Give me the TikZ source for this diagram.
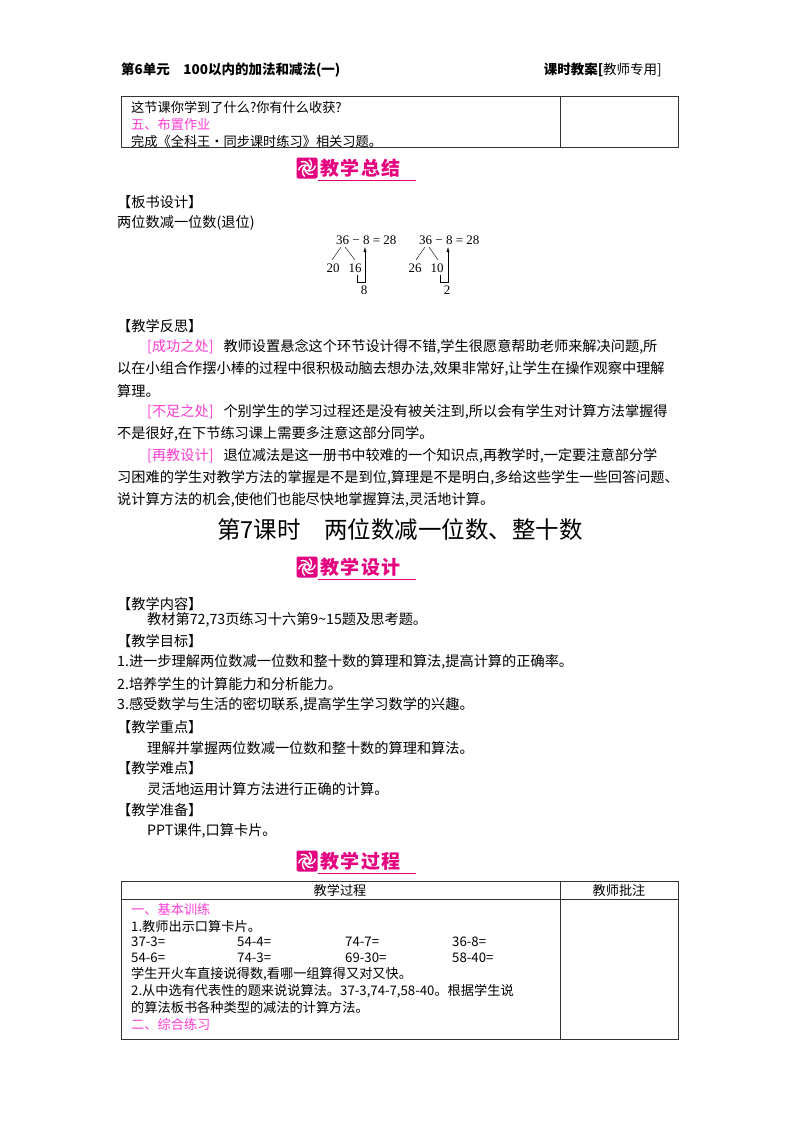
\documentclass[tikz,border=0pt]{standalone}
\usepackage{fontspec}
\usetikzlibrary{arrows.meta}
\setmainfont{Noto Sans CJK SC}
\newfontfamily\numf{Liberation Serif}
\definecolor{pk}{RGB}{228,0,127}
\definecolor{lpk}{RGB}{250,60,210}
\newcommand\mybanner[3]{%
 \node[draw=none,fill=pk,rounded corners=2pt,minimum width=21pt,minimum height=21pt,inner sep=0] (#3i) at (#1+11,#2) {};
 \foreach \a in {0,60,...,300}{\draw[white,line width=1.4pt] (#3i.center) ++(\a:2.5pt) arc[start angle=\a,end angle=\a+110,radius=6.5pt];}
 \node[anchor=west,inner sep=0,text=pk,font=\bfseries\fontsize{19}{20}\selectfont] (#3t) at (#1+24,#2) {\addfontfeature{LetterSpace=8}#3};
 \draw[pk,line width=0.6pt] (#1+22,#2+12) -- (#1+120,#2+12);}
\tikzset{txt/.style={anchor=west,inner sep=0,font=\fontsize{14.2}{15}\selectfont},
 tb/.style={anchor=west,inner sep=0,font=\fontsize{13.2}{14}\selectfont},
 pinkt/.style={text=lpk},
 frame/.style={line width=0.9pt,draw=black!80},
 eq/.style={inner sep=0,font=\numf\fontsize{13}{14}\selectfont}}
\begin{document}
\begin{tikzpicture}[x=1pt,y=-1pt]
\useasboundingbox (0,0) rectangle (800,1132);
\node[anchor=west,inner sep=0,font=\bfseries\fontsize{13.5}{14}\selectfont] (h1) at (121,70) {第6单元\hspace{1em}100以内的加法和减法(一)};
\node[anchor=east,inner sep=0,font=\bfseries\fontsize{13.5}{14}\selectfont] (h2) at (662,70) {课时教案[\mdseries 教师专用]};
% top table
\draw[frame] (121,96) rectangle (678,147); \draw[frame] (560,96) -- (560,147);
\node[tb] (t1) at (131,107) {这节课你学到了什么?你有什么收获?};
\node[tb,pinkt] (t2) at (131,124) {五、布置作业};
\node[tb] (t3) at (131,141) {完成《全科王·同步课时练习》相关习题。};
\mybanner{296}{168}{教学总结}
\node[txt] (b1) at (117,202) {【板书设计】};
\node[txt] (b2) at (117,223) {两位数减一位数(退位)};
% diagram left
\node[eq,anchor=west] (e1) at (336,240) {36 − 8 = 28};
\node[eq] (n20) at (333,268) {20}; \node[eq] (n16) at (355,268) {16}; \node[eq] (n8) at (364,290) {8};
\draw[thin] (341,247) -- (332,260); \draw[thin] (345,247) -- (355,260);
\draw[thin,-{Latex[length=5pt,width=3pt]}] (357,275) -- (357,282) -- (365,282) -- (365,247);
% diagram right
\node[eq,anchor=west] (e2) at (419,240) {36 − 8 = 28};
\node[eq] (n26) at (415,268) {26}; \node[eq] (n10) at (437,268) {10}; \node[eq] (n2) at (447,290) {2};
\draw[thin] (425,247) -- (416,260); \draw[thin] (429,247) -- (438,260);
\draw[thin,-{Latex[length=5pt,width=3pt]}] (440,275) -- (440,282) -- (448,282) -- (448,247);
\node[txt] (r0) at (117,326) {【教学反思】};
\node[txt] (r1) at (147,347) {\textcolor{lpk}{[成功之处]}\hspace{0.7em}教师设置悬念这个环节设计得不错,学生很愿意帮助老师来解决问题,所};
\node[txt] (r2) at (117,369) {以在小组合作摆小棒的过程中很积极动脑去想办法,效果非常好,让学生在操作观察中理解};
\node[txt] (r3) at (117,391) {算理。};
\node[txt] (r4) at (147,412) {\textcolor{lpk}{[不足之处]}\hspace{0.7em}个别学生的学习过程还是没有被关注到,所以会有学生对计算方法掌握得};
\node[txt] (r5) at (117,434) {不是很好,在下节练习课上需要多注意这部分同学。};
\node[txt] (r6) at (147,456) {\textcolor{lpk}{[再教设计]}\hspace{0.7em}退位减法是这一册书中较难的一个知识点,再教学时,一定要注意部分学};
\node[txt] (r7) at (117,478) {习困难的学生对教学方法的掌握是不是到位,算理是不是明白,多给这些学生一些回答问题、};
\node[txt] (r8) at (117,500) {说计算方法的机会,使他们也能尽快地掌握算法,灵活地计算。};
\node[inner sep=0,font=\fontsize{23.5}{24}\selectfont] (title) at (400,530) {第7课时\hspace{1em}两位数减一位数、整十数};
\mybanner{296}{567}{教学设计}
\node[txt] (c1) at (117,604) {【教学内容】};
\node[txt] (c2) at (147,620) {教材第72,73页练习十六第9\textasciitilde15题及思考题。};
\node[txt] (c3) at (117,641) {【教学目标】};
\node[txt] (c4) at (117,662) {1.进一步理解两位数减一位数和整十数的算理和算法,提高计算的正确率。};
\node[txt] (c5) at (117,684) {2.培养学生的计算能力和分析能力。};
\node[txt] (c6) at (117,705) {3.感受数学与生活的密切联系,提高学生学习数学的兴趣。};
\node[txt] (c7) at (117,727) {【教学重点】};
\node[txt] (c8) at (147,748) {理解并掌握两位数减一位数和整十数的算理和算法。};
\node[txt] (c9) at (117,768) {【教学难点】};
\node[txt] (c10) at (147,789) {灵活地运用计算方法进行正确的计算。};
\node[txt] (c11) at (117,810) {【教学准备】};
\node[txt] (c12) at (147,831) {PPT课件,口算卡片。};
\mybanner{296}{861}{教学过程}
% bottom table
\draw[frame] (121,881) rectangle (678,1039); \draw[frame] (560,881) -- (560,1039); \draw[frame] (121,899) -- (678,899);
\node[inner sep=0,font=\fontsize{13.2}{14}\selectfont] (th1) at (340,890) {教学过程};
\node[inner sep=0,font=\fontsize{13.2}{14}\selectfont] (th2) at (619,890) {教师批注};
\node[tb,pinkt] (p1) at (131,909) {一、基本训练};
\node[tb] (p2) at (131,926) {1.教师出示口算卡片。};
\node[tb] (q1) at (131,942) {37-3=}; \node[tb] (q2) at (237,942) {54-4=}; \node[tb] (q3) at (345,942) {74-7=}; \node[tb] (q4) at (452,942) {36-8=};
\node[tb] (q5) at (131,958) {54-6=}; \node[tb] (q6) at (237,958) {74-3=}; \node[tb] (q7) at (345,958) {69-30=}; \node[tb] (q8) at (452,958) {58-40=};
\node[tb] (p3) at (131,974) {学生开火车直接说得数,看哪一组算得又对又快。};
\node[tb] (p4) at (131,991) {2.从中选有代表性的题来说说算法。37-3,74-7,58-40。根据学生说};
\node[tb] (p5) at (131,1007) {的算法板书各种类型的减法的计算方法。};
\node[tb,pinkt] (p6) at (131,1024) {二、综合练习};
\end{tikzpicture}
\end{document}
